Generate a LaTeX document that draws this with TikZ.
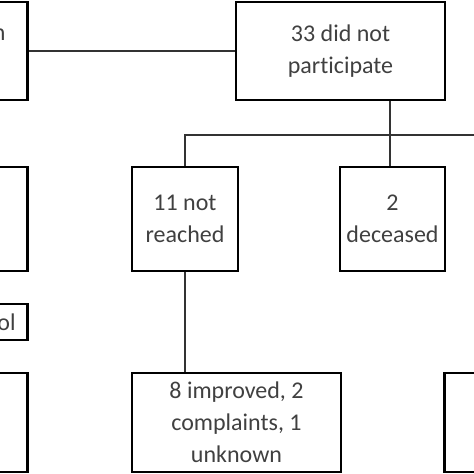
\documentclass[tikz,border=0pt]{standalone}
\usepackage{fontspec}
\setmainfont{Carlito}[Ligatures=NoCommon]
\usetikzlibrary{positioning}

\begin{document}
\begin{tikzpicture}[x=1pt,y=-1pt,font=\fontsize{24}{32}\selectfont,
  box/.style={draw=black,line width=2.8pt,align=center,inner sep=0pt,text=black!75},
  cut/.style={box,text width=#1,align=right},
  link/.style={draw=black!80,line width=1.3pt}]
\useasboundingbox (0,0) rectangle (474,474);
\clip (0,0) rectangle (474,474);
\node[box,minimum width=209pt,minimum height=98pt] (part) at (340.5,51) {33 did not\\participate};
\node[cut=170pt,inner xsep=22pt,minimum height=98pt,anchor=east] (enroll) at (29,51) {n\\~};
\node[box,minimum width=150pt,minimum height=104pt,anchor=east] (group) at (29,219) {};
\node[box,minimum width=106pt,minimum height=104pt] (reached) at (185,219) {11 not\\reached};
\node[box,minimum width=105pt,minimum height=104pt] (deceased) at (392.5,219) {2\\deceased};
\node[cut=100pt,inner xsep=12pt,minimum height=36pt,anchor=east] (ctrl) at (29,322) {ol};
\node[box,minimum width=150pt,minimum height=99pt,anchor=east] (result) at (29,422.5) {};
\node[box,minimum width=209pt,minimum height=99pt] (outcome) at (236.5,422.5) {8 improved, 2\\complaints, 1\\unknown};
\node[box,minimum width=150pt,minimum height=99pt,anchor=west] (other) at (443,422.5) {};
\coordinate (split) at (390,135);
\coordinate (edge) at (480,135);
\draw[link] (enroll.east) -- (part.west);
\draw[link] (part.south -| split) -- (deceased.north -| split);
\draw[link] (reached.north) -- (reached.north |- split) -- (edge);
\draw[link] (reached.south) -- (reached.south |- outcome.north);
\end{tikzpicture}
\end{document}
